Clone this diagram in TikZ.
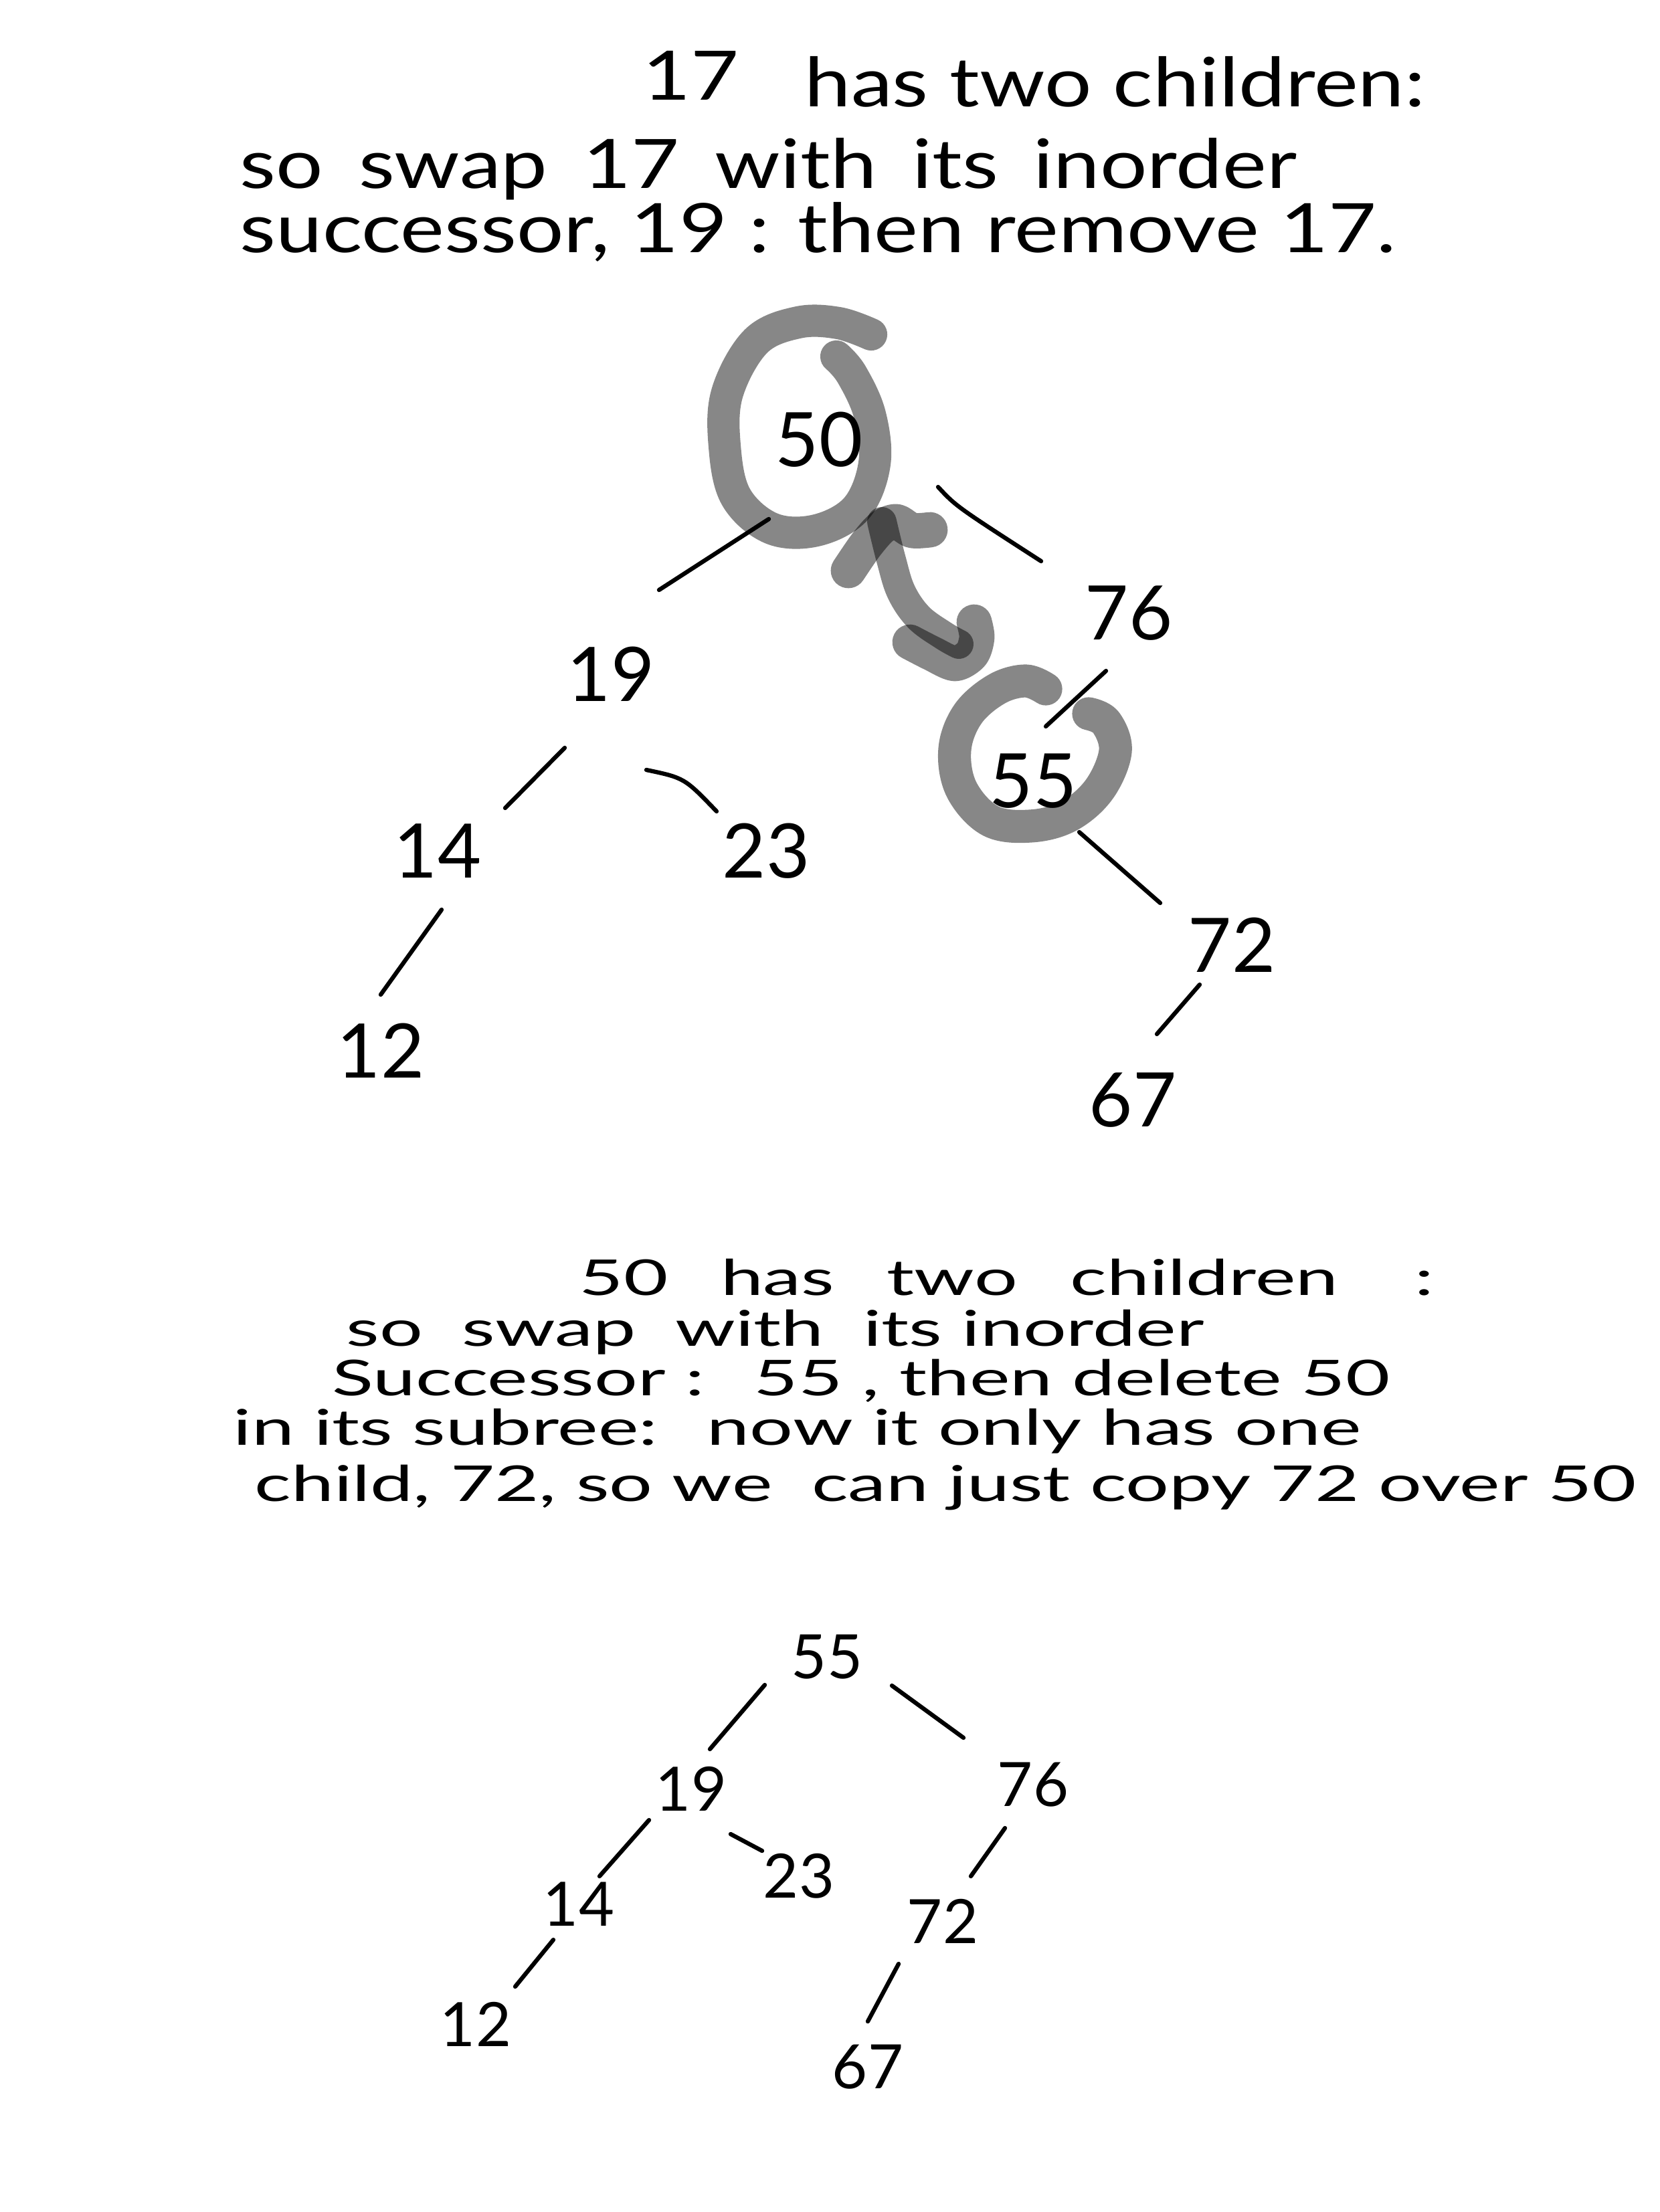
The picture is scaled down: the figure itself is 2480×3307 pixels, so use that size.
\documentclass[tikz,border=0pt]{standalone}
\usepackage{fontspec}
\setmainfont{Lato}
\newfontfamily\topfont[FakeStretch=1.22]{Lato}
\newfontfamily\botfont[FakeStretch=1.55]{Lato}
\usetikzlibrary{calc}
\begin{document}
\begin{tikzpicture}[x=0.01cm,y=-0.01cm,
  txt/.style={anchor=base west,inner sep=0pt,font=\topfont\fontsize{29}{34}\selectfont},
  btxt/.style={anchor=base west,inner sep=0pt,font=\botfont\fontsize{21}{25}\selectfont},
  numA/.style={inner sep=0pt,font=\fontsize{32}{38}\selectfont},
  numB/.style={inner sep=0pt,font=\fontsize{26}{31}\selectfont},
  branch/.style={line width=1.8pt,line cap=round},
  marker/.style={draw=black,draw opacity=0.47,line cap=round,line join=round}]
\useasboundingbox[fill=white] (0,0) rectangle (2480,3307);

% top explanation
\node[txt] (t1a) at (960,150) {17};
\node[txt] (t1b) at (1202,160) {has two children:};
\node[txt] (t2) at (358,282) {so\hspace{6pt} swap\hspace{6pt} 17\hspace{6pt} with\hspace{6pt} its\hspace{6pt} inorder};
\node[txt] (t3) at (358,378) {successor, 19 : then remove 17.};

% tree 1
\node[numA] (a50) at (1224,657) {50};
\node[numA] (a76) at (1687,917) {76};
\node[numA] (a19) at (913,1008) {19};
\node[numA] (a55) at (1544,1168) {55};
\node[numA] (a14) at (654,1272) {14};
\node[numA] (a23) at (1145,1272) {23};
\node[numA] (a72) at (1841,1413) {72};
\node[numA] (a12) at (569,1571) {12};
\node[numA] (a67) at (1693,1645) {67};

\draw[branch] ($(a50)+(-75,119)$) -- ($(a19)+(72,-126)$);
\draw[branch] ($(a50)+(178,71)$) .. controls ($(a50)+(205,100)$) .. ($(a76)+(-131,-78)$);
\draw[branch] ($(a19)+(-69,110)$) -- ($(a14)+(101,-64)$);
\draw[branch] ($(a19)+(53,143)$) .. controls ($(a19)+(110,155)$) .. ($(a23)+(-74,-59)$);
\draw[branch] ($(a76)+(-34,86)$) -- ($(a55)+(19,-82)$);
\draw[branch] ($(a55)+(69,76)$) -- ($(a72)+(-107,-63)$);
\draw[branch] ($(a14)+(6,88)$) -- ($(a12)+(0,-84)$);
\draw[branch] ($(a72)+(-48,59)$) -- ($(a67)+(36,-99)$);

% grey markings
\draw[marker,line width=13.7pt] plot[smooth,tension=0.6] coordinates {
 (1302,500) (1253,483) (1193,482) (1130,510) (1087,587) (1083,667) (1100,743)
 (1153,790) (1220,793) (1280,760) (1307,693) (1300,620) (1273,560) (1250,533)};
\draw[marker,line width=14pt] plot[smooth,tension=0.6] coordinates {
 (1563,1030) (1533,1018) (1490,1030) (1447,1067) (1427,1120) (1437,1180)
 (1480,1227) (1540,1235) (1597,1220) (1643,1180) (1667,1123) (1653,1080) (1627,1067)};
\draw[marker,line width=12.5pt] plot[smooth,tension=0.6] coordinates {
 (1318,780) (1332,837) (1347,885) (1373,923) (1410,950) (1433,963)};
\draw[marker,line width=15pt] plot[smooth,tension=0.5] coordinates {
 (1268,853) (1294,815) (1318,788) (1340,780) (1363,793) (1390,792)};
\draw[marker,line width=15pt] plot[smooth,tension=0.5] coordinates {
 (1360,960) (1393,977) (1427,992) (1452,978) (1460,953) (1456,930)};

% bottom explanation
\node[btxt] (b1) at (865,1936) {50\hspace{14pt} has\hspace{14pt} two\hspace{14pt} children\hspace{24pt} :};
\node[btxt] (b2) at (517,2012) {so\ \ swap\ \ with\ \ its inorder};
\node[btxt] (b3) at (496,2086) {Successor :\quad 55 , then delete 50};
\node[btxt] (b4) at (348,2160) {in its subree:\quad now it only has one};
\node[btxt] (b5) at (380,2244) {child, 72, so we\ \ can just copy 72 over 50};

% tree 2
\node[numB] (c55) at (1236,2477) {55};
\node[numB] (c19) at (1033,2674) {19};
\node[numB] (c76) at (1544,2668) {76};
\node[numB] (c14) at (865,2847) {14};
\node[numB] (c23) at (1194,2805) {23};
\node[numB] (c72) at (1409,2872) {72};
\node[numB] (c12) at (711,3026) {12};
\node[numB] (c67) at (1297,3090) {67};

\draw[branch] ($(c55)+(-93,42)$) -- ($(c19)+(28,-59)$);
\draw[branch] ($(c55)+(97,43)$) -- ($(c76)+(-104,-70)$);
\draw[branch] ($(c19)+(-63,47)$) -- ($(c14)+(31,-42)$);
\draw[branch] ($(c19)+(59,68)$) -- ($(c23)+(-55,-38)$);
\draw[branch] ($(c76)+(-42,65)$) -- ($(c72)+(42,-67)$);
\draw[branch] ($(c14)+(-38,53)$) -- ($(c12)+(59,-56)$);
\draw[branch] ($(c72)+(-66,64)$) -- ($(c67)+(0,-68)$);
\end{tikzpicture}
\end{document}
